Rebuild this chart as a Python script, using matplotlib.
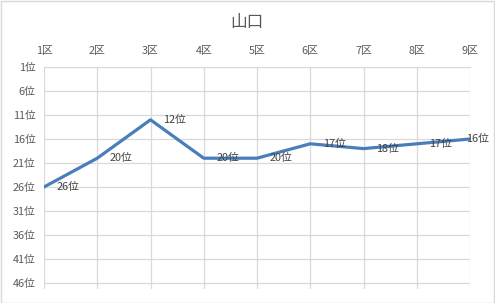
import matplotlib
matplotlib.use("Agg")
import matplotlib.pyplot as plt
from matplotlib.patches import Rectangle

plt.rcParams['font.family'] = ['Noto Sans CJK JP', 'DejaVu Sans']

title = "山口"
categories = ["1区", "2区", "3区", "4区", "5区", "6区", "7区", "8区", "9区"]
ranks = [26, 20, 12, 20, 20, 17, 18, 17, 16]
ytick_values = [1, 6, 11, 16, 21, 26, 31, 36, 41, 46]
ytick_labels = [f"{v}位" for v in ytick_values]

W, H = 495, 303
fig = plt.figure(figsize=(W/100, H/100), dpi=100)
fig.patch.set_facecolor("white")
fig.add_artist(Rectangle((0.5/W, 0.5/H), 1 - 1.5/W, 1 - 1.5/H, transform=fig.transFigure,
                         fill=False, edgecolor="#d9d9d9", linewidth=1))

left, right, top, bottom = 44, 470, 67, 289
ax = fig.add_axes([left/W, 1 - bottom/H, (right-left)/W, (bottom-top)/H])
x = list(range(len(categories)))
ax.plot(x, ranks, color="#4a7ebb", linewidth=2.3, solid_capstyle="round", zorder=3)
for i, (xi, r) in enumerate(zip(x, ranks)):
    dx = 9.0 if i < len(x) - 1 else -2.9
    ax.annotate(f"{r}位", (xi, r), xytext=(dx, 0), textcoords="offset points",
                ha="left", va="center", fontsize=7.8, color="#404040", zorder=4,
                annotation_clip=False)

ax.set_xlim(0, len(categories) - 1)
ax.set_ylim(46 + 6/4.8, 1)
ax.xaxis.tick_top()
ax.set_xticks(x)
ax.set_xticklabels(categories, fontsize=7.8, color="#595959")
ax.set_yticks(ytick_values)
ax.set_yticklabels(ytick_labels, fontsize=7.8, color="#595959")
ax.tick_params(axis="both", length=0, pad=6)
ax.tick_params(axis="x", pad=8)
for s in ["left", "right", "bottom"]:
    ax.spines[s].set_visible(False)
ax.spines["top"].set_color("#d9d9d9")
ax.grid(True, color="#d9d9d9", linewidth=0.9)
ax.set_axisbelow(True)
ax.set_facecolor("white")

fig.text(247/W, 1 - 22/H, title, ha="center", va="center", fontsize=12, color="#595959")

fig.savefig("out.png", dpi=100, facecolor="white")
